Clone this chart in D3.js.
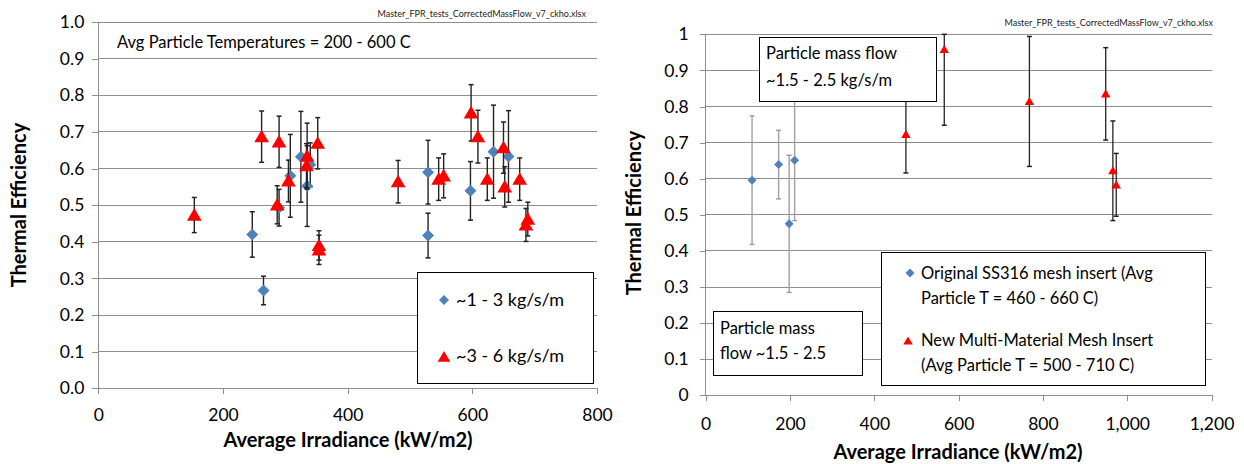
<!DOCTYPE html>
<html><head><meta charset="utf-8">
<script src="https://cdn.jsdelivr.net/npm/d3@7/dist/d3.min.js"></script>
<style>
body{margin:0;background:#fff;}
svg{display:block;font-family:Lato,"Open Sans",sans-serif;}
</style></head><body>
<svg id="c" width="1244" height="464"></svg>
<script>
// ---------- Left chart data ----------
const leftBlueX   = [247, 265, 290, 308, 325, 335, 340, 529, 529, 597, 634, 658];
const leftBlueY   = [0.42, 0.267, 0.493, 0.58, 0.632, 0.552, 0.61, 0.59, 0.417, 0.539, 0.646, 0.633];
const leftBlueErr = [0.062, 0.039, 0.05, 0.113, 0.124, 0.11, 0.06, 0.087, 0.061, 0.08, 0.127, 0.125];

const leftRedX   = [154, 262, 287, 290, 305, 334, 335, 352, 354, 354, 481, 546, 554, 598, 609, 624, 650, 652, 676, 686, 689];
const leftRedY   = [0.473, 0.687, 0.501, 0.673, 0.566, 0.608, 0.634, 0.669, 0.39, 0.378, 0.564, 0.571, 0.58, 0.752, 0.687, 0.571, 0.657, 0.55, 0.571, 0.446, 0.462];
const leftRedErr = [0.048, 0.07, 0.052, 0.07, 0.057, 0.06, 0.09, 0.07, 0.04, 0.04, 0.058, 0.058, 0.06, 0.077, 0.072, 0.058, 0.07, 0.055, 0.058, 0.045, 0.046];

const leftXTicks = [0, 200, 400, 600, 800];
const leftYTicks = [0, 0.1, 0.2, 0.3, 0.4, 0.5, 0.6, 0.7, 0.8, 0.9, 1.0];
const leftLegend = ["~1 - 3 kg/s/m", "~3 - 6 kg/s/m"];
const leftNote = "Avg Particle Temperatures = 200 - 600 C";

// ---------- Right chart data ----------
const rightBlueX   = [110, 173, 198, 211];
const rightBlueY   = [0.596, 0.639, 0.475, 0.651];
const rightBlueErr = [0.178, 0.095, 0.19, 0.167];

const rightRedX   = [475, 566, 768, 949, 966, 974];
const rightRedY   = [0.723, 0.958, 0.814, 0.835, 0.622, 0.583];
const rightRedErr = [0.107, 0.21, 0.18, 0.128, 0.138, 0.087];

const rightXTicks = [0, 200, 400, 600, 800, 1000, 1200];
const rightYTicks = [0, 0.1, 0.2, 0.3, 0.4, 0.5, 0.6, 0.7, 0.8, 0.9, 1];
const rightLegend = [["Original SS316 mesh insert (Avg", "Particle T = 460 - 660 C)"],
                     ["New Multi-Material Mesh Insert", "(Avg Particle T = 500 - 710 C)"]];
const rightNoteTop = ["Particle mass flow", "~1.5 - 2.5 kg/s/m"];
const rightNoteBottom = ["Particle mass", "flow ~1.5 - 2.5"];

const fileName = "Master_FPR_tests_CorrectedMassFlow_v7_ckho.xlsx";
const yTitle = "Thermal Efficiency";
const xTitle = "Average Irradiance (kW/m2)";

const BLUE = "#4f81bd", RED = "#ff0000", GRID = "#8e8e8e";
const svg = d3.select("#c");

function zip(xs, ys, es){ return xs.map((x,i)=>({x, y:ys[i], e:es[i]})); }

function chart(o){
  const g = svg.append("g");
  const x = d3.scaleLinear().domain(o.xDomain).range([o.x0, o.x1]);
  const y = d3.scaleLinear().domain([0,1]).range([o.y0, o.y1]);

  g.append("g").selectAll("line").data(o.yTicks.filter(d=>d>0)).join("line")
    .attr("x1", o.x0).attr("x2", o.x1).attr("y1", d=>y(d)).attr("y2", d=>y(d))
    .attr("stroke", GRID).attr("stroke-width", 1).attr("shape-rendering","crispEdges");

  const ya = d3.axisLeft(y).tickValues(o.yTicks).tickFormat(o.yFmt).tickSize(6).tickPadding(o.yPad);
  const yg = g.append("g").attr("transform", `translate(${o.x0},0)`).call(ya);
  const xa = d3.axisBottom(x).tickValues(o.xTicks).tickFormat(d3.format(",")).tickSize(6).tickPadding(o.xPad);
  const xg = g.append("g").attr("transform", `translate(0,${o.y0})`).call(xa);
  [yg, xg].forEach(a=>{
    a.select(".domain").remove();
    a.selectAll(".tick line").attr("stroke", GRID).attr("shape-rendering","crispEdges");
    a.selectAll(".tick text").attr("fill","#000").attr("font-size", o.tickFont).attr("font-family","Lato");
  });
  g.append("line").attr("x1", o.x0).attr("x2", o.x0).attr("y1", o.y0).attr("y2", o.y1)
    .attr("stroke", GRID).attr("shape-rendering","crispEdges");
  g.append("line").attr("x1", o.x0-6).attr("x2", o.x1).attr("y1", o.y0).attr("y2", o.y0)
    .attr("stroke", GRID).attr("shape-rendering","crispEdges");

  function series(data, color, errColor, errW, shape, size){
    const eg = g.append("g");
    data.forEach(d=>{
      const top = y(Math.min(1, d.y + d.e)), bot = y(Math.max(0, d.y - d.e)), cx = x(d.x);
      eg.append("line").attr("x1",cx).attr("x2",cx).attr("y1",top).attr("y2",bot)
        .attr("stroke",errColor).attr("stroke-width",errW);
      [top, bot].forEach(v=>{
        eg.append("line").attr("x1",cx-2.5).attr("x2",cx+2.5).attr("y1",v).attr("y2",v)
          .attr("stroke",errColor).attr("stroke-width",1.5);
      });
    });
    g.append("g").selectAll("path").data(data).join("path")
      .attr("transform", d=>`translate(${x(d.x)},${y(d.y)})`)
      .attr("d", shape(size)).attr("fill", color);
  }
  o.series.forEach(s=>series(s.data, s.color, s.errColor, s.errW, s.shape, s.size));
  return {g, x, y};
}

const diamond = s => `M0,${-s}L${s},0L0,${s}L${-s},0Z`;
const tri = s => `M0,${-s}L${s*1.05},${s*0.8}L${-s*1.05},${s*0.8}Z`;

// ---------------- LEFT ----------------
chart({
  xDomain:[0,800], x0:98.3, x1:597, y0:388.3, y1:22,
  xTicks:leftXTicks, yTicks:leftYTicks, yFmt:d3.format(".1f"),
  yPad:8, xPad:14, tickFont:"17.5px",
  series:[
    {data:zip(leftBlueX,leftBlueY,leftBlueErr), color:BLUE, errColor:"#222", errW:1.4, shape:diamond, size:6},
    {data:zip(leftRedX,leftRedY,leftRedErr), color:RED, errColor:"#222", errW:1.4, shape:tri, size:7}
  ]
});
svg.append("text").attr("x",117).attr("y",48).attr("font-size","16.5px").text(leftNote);
svg.append("text").attr("x",586).attr("y",17).attr("text-anchor","end").attr("font-size","9px").attr("fill","#222").text(fileName);
{
  const lg = svg.append("g");
  lg.append("rect").attr("x",417.5).attr("y",272.5).attr("width",176).attr("height",111)
    .attr("fill","#fff").attr("stroke","#000");
  lg.append("path").attr("transform","translate(444,300)").attr("d",diamond(5)).attr("fill",BLUE);
  lg.append("path").attr("transform","translate(444,357)").attr("d",tri(6)).attr("fill",RED);
  lg.append("text").attr("x",456).attr("y",306).attr("font-size","18px").text(leftLegend[0]);
  lg.append("text").attr("x",456).attr("y",362).attr("font-size","18px").text(leftLegend[1]);
}
svg.append("text").attr("transform","translate(26,205) rotate(-90)").attr("text-anchor","middle")
  .attr("font-weight","bold").attr("font-size","20px").text(yTitle);
svg.append("text").attr("x",348).attr("y",447).attr("text-anchor","middle")
  .attr("font-weight","bold").attr("font-size","20px").text(xTitle);

// ---------------- RIGHT ----------------
chart({
  xDomain:[0,1200], x0:705.7, x1:1211.5, y0:395.3, y1:34.3,
  xTicks:rightXTicks, yTicks:rightYTicks, yFmt:d3.format(""),
  yPad:11, xPad:16, tickFont:"17.5px",
  series:[
    {data:zip(rightBlueX,rightBlueY,rightBlueErr), color:BLUE, errColor:"#a0a0a0", errW:1.4, shape:diamond, size:4.5},
    {data:zip(rightRedX,rightRedY,rightRedErr), color:RED, errColor:"#222", errW:1.3, shape:tri, size:4.5}
  ]
});
svg.append("text").attr("x",1213).attr("y",26).attr("text-anchor","end").attr("font-size","9px").attr("fill","#222").text(fileName);
function box(x,y,w,h,lines,tx,ty,lh,fs){
  const b = svg.append("g");
  b.append("rect").attr("x",x).attr("y",y).attr("width",w).attr("height",h).attr("fill","#fff").attr("stroke","#000");
  lines.forEach((t,i)=>b.append("text").attr("x",tx).attr("y",ty+i*lh).attr("font-size",fs).text(t));
}
box(759.5,37.5,177,64, rightNoteTop, 766, 59, 27, "16.5px");
box(713.5,311.5,149,64, rightNoteBottom, 720, 334, 25, "16.5px");
{
  const lg = svg.append("g");
  lg.append("rect").attr("x",881.5).attr("y",252.5).attr("width",324).attr("height",133)
    .attr("fill","#fff").attr("stroke","#000");
  lg.append("path").attr("transform","translate(910,273)").attr("d",diamond(4.5)).attr("fill",BLUE);
  lg.append("path").attr("transform","translate(908,341)").attr("d",tri(4.5)).attr("fill",RED);
  rightLegend.forEach((ls,i)=>ls.forEach((t,j)=>{
    lg.append("text").attr("x",921).attr("y",279 + i*67 + j*25).attr("font-size","16.5px").text(t);
  }));
}
svg.append("text").attr("transform","translate(641,213) rotate(-90)").attr("text-anchor","middle")
  .attr("font-weight","bold").attr("font-size","20px").text(yTitle);
svg.append("text").attr("x",958).attr("y",459).attr("text-anchor","middle")
  .attr("font-weight","bold").attr("font-size","20px").text(xTitle);
</script>
</body></html>
